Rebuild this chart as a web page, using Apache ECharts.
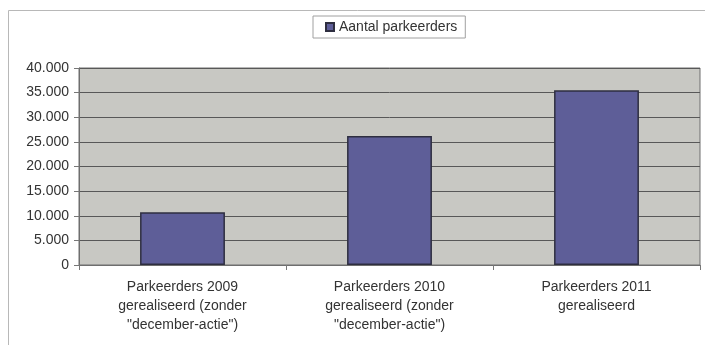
<!DOCTYPE html>
<html>
<head>
<meta charset="utf-8">
<script src="https://cdn.jsdelivr.net/npm/echarts@6/dist/echarts.min.js"></script>
<style>
  html, body { margin: 0; padding: 0; background: #ffffff; }
  #chart { width: 705px; height: 345px; }
</style>
</head>
<body>
<div id="chart"></div>
<script>
// Parking counts per year
const categories = [
  'Parkeerders 2009\ngerealiseerd (zonder\n"december-actie")',
  'Parkeerders 2010\ngerealiseerd (zonder\n"december-actie")',
  'Parkeerders 2011\ngerealiseerd'
];
const seriesName = 'Aantal parkeerders';
const values = [10700, 26200, 35500];
const yTicks = { min: 0, max: 40000, step: 5000 };

// Dutch thousands separator: 40000 -> "40.000"
function fmt(v) {
  return String(v).replace(/\B(?=(\d{3})+(?!\d))/g, '.');
}

const chart = echarts.init(document.getElementById('chart'));
const font = 'Liberation Sans, Arial, sans-serif';

chart.setOption({
  backgroundColor: '#ffffff',
  animation: false,
  textStyle: { fontFamily: font },
  graphic: [{
    type: 'rect',
    shape: { x: 8.5, y: 10.5, width: 700, height: 340 },
    style: { fill: 'none', stroke: '#b8b8b8', lineWidth: 1 },
    silent: true
  }],
  legend: {
    left: 313,
    top: 16,
    itemWidth: 8,
    itemHeight: 8,
    itemGap: 6,
    padding: [4, 8, 4, 12],
    borderColor: '#a0a0a0',
    borderWidth: 1,
    textStyle: { fontFamily: font, fontSize: 14, color: '#333' },
    data: [{ name: seriesName, icon: 'rect' }]
  },
  grid: {
    left: 79,
    right: 5,
    top: 68,
    bottom: 80,
    show: true,
    backgroundColor: '#c8c8c3',
    borderColor: '#6e6e6e',
    borderWidth: 1
  },
  xAxis: {
    type: 'category',
    data: categories,
    axisLine: { show: true, lineStyle: { color: '#6e6e6e' } },
    axisTick: { show: true, length: 5, alignWithLabel: false, lineStyle: { color: '#777' } },
    axisLabel: {
      interval: 0,
      margin: 13,
      fontSize: 14,
      lineHeight: 19,
      color: '#333',
      fontFamily: font
    },
    splitLine: { show: false }
  },
  yAxis: {
    type: 'value',
    min: yTicks.min,
    max: yTicks.max,
    interval: yTicks.step,
    axisLine: { show: true, lineStyle: { color: '#6e6e6e' } },
    axisTick: { show: true, length: 5, lineStyle: { color: '#777' } },
    axisLabel: {
      fontSize: 14,
      color: '#333',
      margin: 10,
      fontFamily: font,
      formatter: fmt
    },
    splitLine: { show: true, lineStyle: { color: '#585858', width: 1 } }
  },
  series: [{
    name: seriesName,
    type: 'bar',
    data: values,
    barWidth: '41%',
    itemStyle: {
      color: '#5e5e98',
      borderColor: '#2e2e40',
      borderWidth: 1.5
    }
  }]
});
</script>
</body>
</html>
